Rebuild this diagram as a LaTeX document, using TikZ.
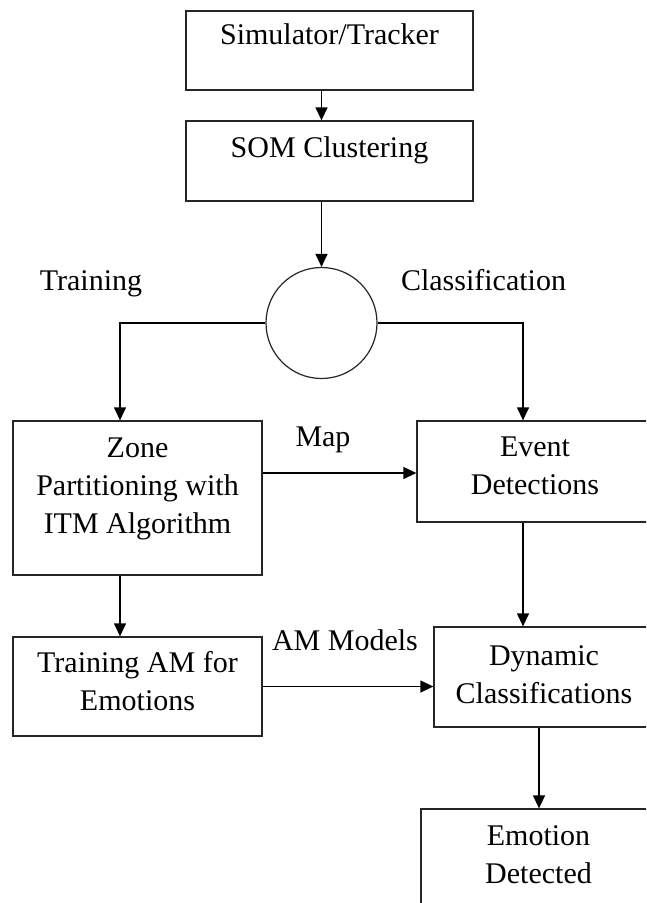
\documentclass[tikz,border=0pt]{standalone}
\usepackage{fontspec}
\setmainfont{Liberation Serif}
\usetikzlibrary{arrows.meta}
\begin{document}
\begin{tikzpicture}[x=1pt,y=-1pt,
  box/.style={draw=black!85, line width=1.3pt, rectangle, inner sep=0pt},
  txt/.style={inner sep=0pt, align=center, anchor=north, font=\fontsize{30}{38}\selectfont},
  lbl/.style={inner sep=0pt, anchor=base, font=\fontsize{30}{38}\selectfont},
  arr/.style={draw=black, line width=1.3pt, -{Triangle[length=13pt,width=12pt]}},
  ln/.style={draw=black, line width=1.3pt}]
\useasboundingbox (0,0) rectangle (646,903);
\clip (0,0) rectangle (646,903);
% boxes
\node[box, minimum width=287pt, minimum height=79pt] (sim) at (329.5,50.5) {};
\node[box, minimum width=287pt, minimum height=80pt] (som) at (329.5,161) {};
\node[draw=black!85, line width=1.2pt, circle, inner sep=0pt, minimum size=111pt] (circ) at (321.5,323) {};
\node[box, minimum width=249pt, minimum height=154pt] (zone) at (137.5,498) {};
\node[box, minimum width=236pt, minimum height=101pt] (event) at (535,471.5) {};
\node[box, minimum width=249pt, minimum height=99pt] (train) at (137.5,686.5) {};
\node[box, minimum width=220pt, minimum height=100pt] (dyn) at (544,677) {};
\node[box, minimum width=235pt, minimum height=122pt] (emo) at (538.5,870) {};
% texts
\node[lbl] (simt) at (329.5,44) {Simulator/Tracker};
\node[lbl] (somt) at (329.5,157) {SOM Clustering};
\node[txt] (zonet) at (137.5,430.4) {\strut Zone\\Partitioning with\\ITM Algorithm};
\node[txt] (eventt) at (535,429.4) {\strut Event\\Detections};
\node[txt] (traint) at (137.5,645.4) {\strut Training AM for\\Emotions};
\node[txt] (dynt) at (544,638.4) {\strut Dynamic\\Classifications};
\node[txt] (emot) at (538.5,818.4) {\strut Emotion\\Detected};
% labels
\node[lbl] (ltrain) at (91,290) {Training};
\node[lbl] (lclass) at (483.5,290) {Classification};
\node[lbl] (lmap) at (323,446) {Map};
\node[lbl] (lam) at (345,650) {AM Models};
% connectors
\draw[arr] (sim.south -| circ.center) -- (som.north -| circ.center);
\draw[arr] (som.south -| circ.center) -- (circ.north);
\draw[arr] (circ.west) -| ([xshift=-17.5pt]zone.north);
\draw[arr] (circ.east) -| ([xshift=-12pt]event.north);
\draw[arr] ([yshift=25pt]zone.east) -- ([yshift=25pt]zone.east -| event.west);
\draw[arr] ([xshift=-12pt]event.south) -- ([xshift=-12pt]event.south |- dyn.north);
\draw[arr] ([xshift=-17.5pt]zone.south) -- ([xshift=-17.5pt]train.north);
\draw[arr] (train.east) -- (train.east -| dyn.west);
\draw[arr] ([xshift=-5pt]dyn.south) -- ([xshift=-5pt]dyn.south |- emo.north);
\end{tikzpicture}
\end{document}
